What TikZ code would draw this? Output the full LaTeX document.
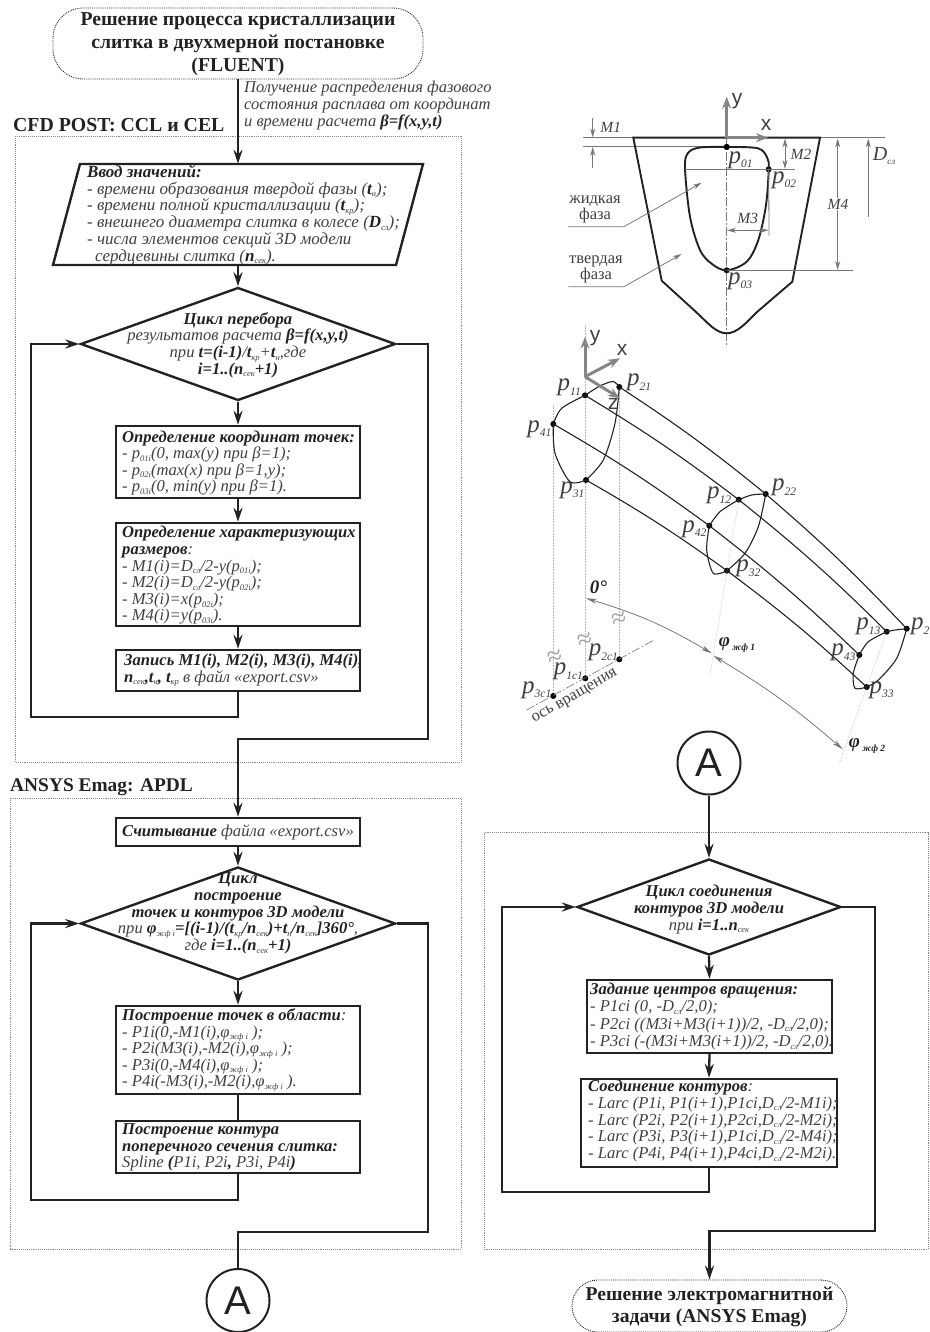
\documentclass[tikz,border=0pt]{standalone}
\usepackage{fontspec}
\setmainfont{Liberation Serif}
\newfontfamily\sansA{Liberation Sans}
\usetikzlibrary{arrows.meta,shapes.geometric,calc}
\definecolor{bodyc}{HTML}{404040}
\definecolor{inkc}{HTML}{222222}
\definecolor{thinc}{HTML}{777777}
\definecolor{axisc}{HTML}{858585}
\definecolor{framec}{HTML}{8A8A8A}
\newcommand{\low}[1]{\raisebox{-.35ex}{\fontsize{8.5}{8.5}\selectfont #1}}
\newcommand{\blow}[1]{\raisebox{-.35ex}{\fontsize{9.5}{9.5}\selectfont\bfseries #1}}
\newcommand{\plab}[2]{\textit{#1}\raisebox{-.4ex}{\fontsize{11.5}{11.5}\selectfont\itshape #2}}
\newcommand{\bb}[1]{\textbf{\textcolor{inkc}{#1}}}
\tikzset{
 x=1pt,y=-1pt,
 flow/.style={draw=inkc,line width=2.3pt,line join=miter,-{Stealth[length=14pt,width=9pt]}},
 flowplain/.style={draw=inkc,line width=2.3pt},
 boxshape/.style={draw=inkc,line width=2.4pt,rectangle,inner sep=0pt},
 dia/.style={draw=inkc,line width=2.4pt,diamond,inner sep=0pt},
 term/.style={draw=inkc,line width=.9pt,densely dotted,rectangle,rounded corners=30pt,inner sep=0pt},
 frame/.style={draw=framec,line width=.9pt,densely dotted},
 body/.style={font=\fontsize{16.6}{16.6}\selectfont\itshape,text=bodyc,align=left,inner sep=0pt},
 cbody/.style={body,align=center},
 termtext/.style={font=\fontsize{19.7}{23}\selectfont\bfseries,text=inkc,align=center,inner sep=0pt},
 head/.style={font=\fontsize{19.8}{22}\selectfont\bfseries,text=inkc,inner sep=0pt,anchor=west},
 conn/.style={draw=inkc,line width=2pt,circle,inner sep=0pt,minimum size=63pt,font=\fontsize{40}{40}\selectfont\sansA,text=inkc},
 dot/.style={circle,fill=black,inner sep=0pt,minimum size=6pt},
 curve/.style={draw=inkc,line width=1.1pt},
 outline/.style={draw=inkc,line width=1.9pt},
 dim/.style={draw=thinc,line width=.8pt},
 dimarr/.style={dim,{Stealth[length=9pt,width=5pt]}-{Stealth[length=9pt,width=5pt]}},
 dimend/.style={dim,-{Stealth[length=9pt,width=5pt]}},
 faint/.style={draw=gray!55,line width=.5pt,densely dotted},
 centre/.style={draw=thinc,line width=.6pt,dash pattern=on 9pt off 2pt on 2pt off 2pt},
 axisarr/.style={draw=axisc,line width=3pt,-{Stealth[length=12pt,width=9pt]}},
 plabel/.style={font=\fontsize{25}{25}\selectfont,text=bodyc,inner sep=0pt},
 dlabel/.style={font=\fontsize{15.5}{15.5}\selectfont\itshape,text=bodyc,inner sep=1pt},
 axlabel/.style={font=\fontsize{21}{21}\selectfont\sansA,text=bodyc,inner sep=0pt},
 uplabel/.style={font=\fontsize{16.5}{13.5}\selectfont,text=bodyc,inner sep=0pt,align=center},
}
\begin{document}
\begin{tikzpicture}
\useasboundingbox (0,0) rectangle (929,1332);
\clip (0,0) rectangle (929,1332);
% dotted frames
\draw[frame] (15,136) rectangle (461,762);
\draw[frame] (10.5,798) rectangle (461,1249);
\draw[frame] (484,832.5) rectangle (928,1249);
% left flow, first part
\node[term,minimum width=370pt,minimum height=71pt] (start) at (238,43.5) {};
\node[termtext] (startt) at (238,44) {Решение процесса кристаллизации\\слитка в двухмерной постановке\\(FLUENT)};
\node[body,anchor=west,font=\fontsize{16.5}{17}\selectfont\itshape] (note) at (244,106) {Получение распределения фазового\\состояния расплава от координат\\и времени расчета \bb{β=f(x,y,t)}};
\node[head] (cfd) at (13,125.5) {CFD POST: CCL и CEL};
\node[rectangle,minimum width=316pt,minimum height=101pt,inner sep=0pt] (input) at (238,214.5) {};
\draw[boxshape] (80,164) -- (423,164) -- (396,265) -- (53,265) -- cycle;
\node[body,anchor=west,font=\fontsize{17}{16.7}\selectfont\itshape] (inputt) at (87,215) {\bb{Ввод значений:}\\- времени образования твердой фазы (\bb{t}\low{н});\\- времени полной кристаллизации (\bb{t}\low{кр});\\- внешнего диаметра слитка в колесе (\bb{D}\low{сл});\\- числа элементов секций 3D модели\\\hspace*{8pt}сердцевины слитка (\bb{n}\low{сек}).};
\node[dia,minimum width=315pt,minimum height=113pt] (d1) at (238,344) {};
\node[cbody] (d1t) at (238,345) {\bb{Цикл перебора}\\результатов расчета \bb{β=f(x,y,t)}\\при \bb{t=(i-1)}/\bb{t}\low{кр}+\bb{t}\low{н},где\\\bb{i=1..(n}\low{сек}\bb{+1)}};
\node[boxshape,minimum width=244pt,minimum height=72pt] (b1) at (238,462) {};
\node[body,anchor=west] (b1t) at (122,463) {\bb{Определение координат точек:}\\- p\low{01i}(0, max(y) при β=1);\\- p\low{02i}(max(x) при β=1,y);\\- p\low{03i}(0, min(y) при β=1).};
\node[boxshape,minimum width=244pt,minimum height=103pt] (b2) at (238,574.5) {};
\node[body,anchor=west] (b2t) at (122,575.5) {\bb{Определение характеризующих}\\\bb{размеров}:\\- M1(i)=D\low{сл}/2-y(p\low{01i});\\- M2(i)=D\low{сл}/2-y(p\low{02i});\\- M3(i)=x(p\low{02i});\\- M4(i)=y(p\low{03i}).};
\node[boxshape,minimum width=244pt,minimum height=41pt] (b3) at (238,670.5) {};
\node[body,anchor=west] (b3t) at (124,670.5) {\bb{Запись M1(i), M2(i), M3(i), M4(i),}\\\bb{n}\low{сек}\bb{,t}\low{н}\bb{, t}\low{кр} в файл «export.csv»};
\coordinate (l1) at (31,717);
\coordinate (r1) at (428,739);
% left flow, second part
\node[head,font=\fontsize{19.4}{22}\selectfont\bfseries] (ansys) at (10,787.5) {ANSYS Emag: APDL};
\node[boxshape,minimum width=244pt,minimum height=28pt] (read) at (238,832) {};
\node[body,anchor=center] (readt) at (238,832) {\bb{Считывание} файла «export.csv»};
\node[dia,minimum width=315pt,minimum height=113pt] (d2) at (238,923.5) {};
\node[cbody] (d2t) at (238,913.5) {\bb{Цикл}\\\bb{построение}\\\bb{точек и контуров 3D модели}\\при \bb{φ}\low{жф i}\bb{=[(i-1)/(t}\low{кр}\bb{/n}\low{сек}\bb{)+t}\low{н}\bb{/n}\low{сек}\bb{]360°},\\где \bb{i=1..(n}\low{сек}\bb{+1)}};
\node[boxshape,minimum width=244pt,minimum height=88pt] (b4) at (238,1050) {};
\node[body,anchor=west] (b4t) at (122,1050) {\bb{Построение точек в области}:\\- P1i(0,-M1(i),φ\low{жф i} );\\- P2i(M3(i),-M2(i),φ\low{жф i} );\\- P3i(0,-M4(i),φ\low{жф i} );\\- P4i(-M3(i),-M2(i),φ\low{жф i} ).};
\node[boxshape,minimum width=244pt,minimum height=52pt] (b5) at (238,1147) {};
\node[body,anchor=west] (b5t) at (122,1147.5) {\bb{Построение контура}\\\bb{поперечного сечения слитка:}\\Spline \bb{(}P1i, P2i\bb{,} P3i, P4i\bb{)}};
\coordinate (l2) at (31,1200);
\coordinate (r2) at (428,1232);
\node[conn] (a1) at (238,1300.5) {A};
% connectors left
\draw[flow] (start.south) -- (input.north);
\draw[flow] (input.south) -- (d1.north);
\draw[flow] (d1.south) -- (b1.north);
\draw[flow] (b1.south) -- (b2.north);
\draw[flow] (b2.south) -- (b3.north);
\draw[flow] (b3.south) |- (l1) |- (d1.west);
\draw[flow] (d1.east) -| (r1) -| (read.north);
\draw[flow] (read.south) -- (d2.north);
\draw[flow] (d2.south) -- (b4.north);
\draw[flowplain] (b4.south) -- (b5.north);
\draw[flow] (b5.south) |- (l2) |- (d2.west);
\draw[flowplain] (d2.east) -| (r2) -| (a1.north);
% right flow
\node[conn] (a2) at (709,763) {A};
\node[dia,minimum width=264pt,minimum height=96pt] (d3) at (709,907) {};
\node[cbody] (d3t) at (709,909.5) {\bb{Цикл соединения}\\\bb{контуров 3D модели}\\при \bb{i=1..n}\low{сек}};
\node[boxshape,minimum width=245pt,minimum height=73pt] (z1) at (709.5,1016.5) {};
\node[body,anchor=west,font=\fontsize{16.6}{17.3}\selectfont\itshape] (z1t) at (590,1016.5) {\bb{Задание центров вращения:}\\- P1ci (0, -D\low{сл}/2,0);\\- P2ci ((M3i+M3(i+1))/2, -D\low{сл}/2,0);\\- P3ci (-(M3i+M3(i+1))/2, -D\low{сл}/2,0).};
\node[boxshape,minimum width=256pt,minimum height=88pt] (z2) at (709,1123) {};
\node[body,anchor=west,font=\fontsize{16.6}{16.9}\selectfont\itshape] (z2t) at (588,1121) {\bb{Соединение контуров}:\\- Larc (P1i, P1(i+1),P1ci,D\low{сл}/2-M1i);\\- Larc (P2i, P2(i+1),P2ci,D\low{сл}/2-M2i);\\- Larc (P3i, P3(i+1),P1ci,D\low{сл}/2-M4i);\\- Larc (P4i, P4(i+1),P4ci,D\low{сл}/2-M2i).};
\node[term,minimum width=275pt,minimum height=52pt,rounded corners=26pt] (end) at (709.5,1306) {};
\node[termtext,font=\fontsize{19.6}{22}\selectfont\bfseries] (endt) at (709.5,1307) {Решение электромагнитной\\задачи (ANSYS Emag)};
\coordinate (l3) at (502,1192);
\coordinate (r3) at (875,1231);
\draw[flow] (a2.south) -- (d3.north);
\draw[flow] (d3.south) -- (z1.north);
\draw[flow] (z1.south) -- (z2.north);
\draw[flow] (z2.south) |- (l3) |- (d3.west);
\draw[flow] (d3.east) -| (r3) -| (end.north);
% top figure: section of the ingot
\coordinate (o0) at (726.7,137.7);
\draw[dim] (583,137.7) -- (885,137.7);
\draw[dim] (583,146.7) -- (726.7,146.7);
\draw[centre] (726.7,137) -- (726.7,347);
\draw[outline] (792.3,281.7) -- (820,137.7) -- (633.3,137.7) -- (661.7,280.7) -- (696,312) .. controls (708,323) and (716,333.3) .. (726.7,333.3) .. controls (737,333.3) and (746,323) .. (757,312) -- cycle;
\node[dot] (p01) at (726.7,147) {};
\node[dot] (p02) at (768.7,169.3) {};
\node[dot] (p03) at (726.7,270.3) {};
\draw[outline] plot[smooth,tension=.55] coordinates {(p01.center) (700,147.5) (688,153) (685,168.3) (690,216.7) (700,250) (712,264) (p03.center) (746.7,261.7) (758.3,240) (766,205) (p02.center) (767.3,158) (758,148.3) (p01.center)};
\node[dot] at (p01) {};
\draw[dim] (685,169.3) -- (795,169.3);
\draw[dim] (726.7,270.3) -- (853,270.3);
\draw[dim] (p02.center) -- (769,235.7);
\draw[dimarr] (785,138.5) -- (785,169);
\draw[dimarr] (837.7,138.5) -- (837.7,270);
\draw[dimend] (868.3,216.7) -- (868.3,138.5);
\draw[dimend] (592.7,118) -- (592.7,137.5);
\draw[dimend] (592.7,168) -- (592.7,147);
\draw[dimarr] (727,230.3) -- (768.5,230.3);
\draw[dimend] (568.3,226.7) -- (624,226.7) -- (701.7,182.7);
\draw[dimend] (568.3,286.7) -- (624,286.7) -- (681.7,254);
\draw[axisarr] (o0) -- (726.7,96.7);
\draw[axisarr] (o0) -- (768,137.7);
\node[axlabel] (ty) at (737,101) {y};
\node[axlabel] (tx) at (766,125) {x};
\node[dlabel] (m1) at (610.7,127) {M1};
\node[dlabel] (m2) at (801,154) {M2};
\node[dlabel,fill=white] (m4) at (838,204) {M4};
\node[dlabel,fill=white,inner sep=0pt] (m3) at (747.7,218) {M3};
\node[plabel,font=\fontsize{20}{20}\selectfont] (dcl) at (884,156) {\textit{D}\raisebox{-.4ex}{\fontsize{9}{9}\selectfont\itshape сл}};
\node[plabel] (lp01) at (740.7,160) {\plab{p}{01}};
\node[plabel] (lp02) at (784,180) {\plab{p}{02}};
\node[plabel] (lp03) at (740,281) {\plab{p}{03}};
\node[uplabel] (liq) at (595,209.5) {жидкая\\фаза};
\node[uplabel] (sol) at (596,269.5) {твердая\\фаза};
% lower figure: 3D core
\draw[faint] (553.3,405) -- (553.3,696);
\draw[faint] (585,325) -- (585,678);
\draw[faint] (619.3,387) -- (619.3,659);
\node[dot] (p11) at (585,395.3) {};
\node[dot] (p21) at (619.3,387) {};
\node[dot] (p41) at (553.3,424) {};
\node[dot] (p31) at (586,480) {};
\node[dot] (p12) at (738.7,499.7) {};
\node[dot] (p22) at (765.7,494) {};
\node[dot] (p42) at (709.3,525.7) {};
\node[dot] (p32) at (727,570.7) {};
\node[dot] (p13) at (886.7,631.7) {};
\node[dot] (p23) at (906.7,628.7) {};
\node[dot] (p43) at (859.3,655) {};
\node[dot] (p33) at (866.7,687) {};
\node[dot] (pc1) at (585.3,678.3) {};
\node[dot] (pc2) at (619.3,659.3) {};
\node[dot] (pc3) at (553.3,696) {};
\draw[faint,draw=gray!70] (p12.center) -- (710,675);
\draw[faint,draw=gray!70] (p13.center) -- (839,764);
\draw[centre] (526.7,710) -- (654,640);
\foreach \a/\b in {p11/p12,p21/p22,p41/p42,p31/p32,p12/p13,p22/p23,p42/p43,p32/p33}
  \draw[curve] (\a.center) to[bend left=3] (\b.center);
\draw[curve] plot[smooth] coordinates {(p11.center) (600,386) (613,381.5) (p21.center)};
\draw[curve] plot[smooth] coordinates {(p21.center) (615,423.3) (603.3,460) (p31.center)};
\draw[curve] plot[smooth] coordinates {(p31.center) (570,481.7) (555,453.3) (p41.center)};
\draw[curve] plot[smooth] coordinates {(p41.center) (561.7,408.3) (p11.center)};
\draw[curve] plot[smooth] coordinates {(p12.center) (751.7,495) (p22.center)};
\draw[curve] plot[smooth] coordinates {(p22.center) (758.3,526.7) (745,553.3) (p32.center)};
\draw[curve] plot[smooth] coordinates {(p32.center) (713.3,573.3) (706.7,550) (p42.center)};
\draw[curve] plot[smooth] coordinates {(p42.center) (720,511.7) (p12.center)};
\draw[curve] plot[smooth] coordinates {(p13.center) (895,630) (p23.center)};
\draw[curve] plot[smooth] coordinates {(p23.center) (896.7,658.3) (878.3,680) (p33.center)};
\draw[curve] plot[smooth] coordinates {(p33.center) (855,688.3) (853.3,673.3) (p43.center)};
\draw[curve] plot[smooth] coordinates {(p43.center) (868.3,641.7) (p13.center)};
\coordinate (o1) at (585,376.7);
\draw[axisarr] (o1) -- (585,336.7);
\draw[axisarr] (o1) -- (620,358.3);
\draw[axisarr] (o1) -- (620,398.3);
\node[axlabel] (ty2) at (595,338.5) {y};
\node[axlabel] (tx2) at (622,350) {x};
\node[axlabel] (tz2) at (613,404) {z};
\node[plabel] at (569.3,387.3) {\plab{p}{11}};
\node[plabel] at (639,382.7) {\plab{p}{21}};
\node[plabel] at (539.3,429) {\plab{p}{41}};
\node[plabel] at (572.3,490) {\plab{p}{31}};
\node[plabel] at (719,495.7) {\plab{p}{12}};
\node[plabel] at (784,487.3) {\plab{p}{22}};
\node[plabel] at (694.3,529) {\plab{p}{42}};
\node[plabel] at (748.3,568.3) {\plab{p}{32}};
\node[plabel] at (868.3,626.7) {\plab{p}{13}};
\node[plabel,anchor=west] at (911,626.7) {\plab{p}{2}};
\node[plabel] at (843.3,652.3) {\plab{p}{43}};
\node[plabel] at (881.7,690) {\plab{p}{33}};
\node[plabel] at (536.7,690) {\plab{p}{3c1}};
\node[plabel] at (568.3,671.7) {\plab{p}{1c1}};
\node[plabel] at (603.3,652.7) {\plab{p}{2c1}};
\node[uplabel,rotate=30] (axisn) at (575,697) {ось вращения};
\foreach \px/\py in {555/658,585/641,619.3/620}
  \node[font=\fontsize{27}{27}\selectfont,text=gray!75,rotate=15,inner sep=0pt] at (\px,\py) {≈};
\coordinate (ang0) at (586,598.3);
\coordinate (ang1a) at (711.7,653.3);
\coordinate (ang1b) at (713.3,655.7);
\coordinate (ang2) at (842.7,749.3);
\draw[dimarr,{Stealth[length=11pt,width=5pt]}-{Stealth[length=11pt,width=5pt]}] (ang0) to[bend left=7] (ang1a);
\draw[dimarr,{Stealth[length=11pt,width=5pt]}-{Stealth[length=11pt,width=5pt]}] (ang1b) to[bend left=5] (ang2);
\node[font=\fontsize{19}{19}\selectfont\bfseries\itshape,text=inkc,inner sep=0pt] (zero) at (598.3,587) {0°};
\node[font=\fontsize{19}{19}\selectfont\bfseries\itshape,text=inkc,inner sep=0pt] (phi1) at (737,645) {φ\blow{ жф 1}};
\node[font=\fontsize{19}{19}\selectfont\bfseries\itshape,text=inkc,inner sep=0pt] (phi2) at (867,746) {φ\blow{ жф 2}};
\end{tikzpicture}
\end{document}
